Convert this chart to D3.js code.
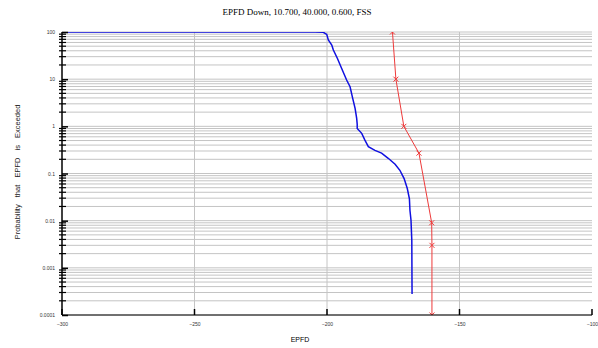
<!DOCTYPE html>
<html>
<head>
<meta charset="utf-8">
<script src="https://cdn.jsdelivr.net/npm/d3@7"></script>
<style>
  body { margin: 0; background: #fff; }
  svg { display: block; }
</style>
</head>
<body>
<div id="chart"></div>
<script>
// blue curve: EPFD value vs probability (%) exceeded
const blueEpfd = [-300, -204.5, -201.4, -200.1, -199.5, -198.2, -197.6, -196.1, -194.5, -192.6, -191.3, -190.3, -189.4, -188.8, -188.6, -188.6, -186.9, -185.7, -184.4, -181.9, -179.4, -176.9, -174.3, -172.5, -170.9, -169.7, -168.9, -168.7, -168.3, -168.0, -167.9];
const blueProb = [100, 100, 98.6, 89, 67.6, 53, 41.5, 27.7, 17, 9.6, 6.9, 3.9, 2.4, 1.47, 1.1, 0.9, 0.71, 0.51, 0.37, 0.31, 0.27, 0.21, 0.157, 0.117, 0.078, 0.048, 0.029, 0.0166, 0.0102, 0.0038, 0.00028];

// red mask series
const redEpfd = [-175.3, -174.0, -171.0, -165.3, -160.5, -160.4, -160.4];
const redProb = [100, 10, 1, 0.27, 0.009, 0.003, 0.0001];

const xTicks = [-300, -250, -200, -150, -100];
const yTicks = [100, 10, 1, 0.1, 0.01, 0.001, 0.0001];
const yTickLabels = ['100', '10', '1', '0.1', '0.01', '0.001', '0.0001'];

const title = 'EPFD Down, 10.700, 40.000, 0.600, FSS';
const xTitle = 'EPFD';
const yTitle = 'Probability that EPFD is Exceeded';

const W = 598, H = 348;
const margin = { top: 32, right: 6, bottom: 33, left: 62 };
const width = W - margin.left - margin.right;
const height = H - margin.top - margin.bottom;

const x = d3.scaleLinear().domain([-300, -100]).range([0, width]);
const y = d3.scaleLog().domain([0.0001, 100]).range([height, 0]);

// minor values 2..9 of each decade
const minor = [];
for (let e = -4; e < 2; e++) {
  for (let m = 2; m <= 9; m++) minor.push(m * Math.pow(10, e));
}

const svg = d3.select('#chart').append('svg')
  .attr('width', W)
  .attr('height', H);

svg.append('text')
  .attr('x', 297)
  .attr('y', 15)
  .attr('text-anchor', 'middle')
  .style('font-family', '"Liberation Serif", "Times New Roman", serif')
  .style('font-size', '9px')
  .text(title);

const g = svg.append('g')
  .attr('transform', 'translate(' + margin.left + ',' + margin.top + ')');

g.append('clipPath').attr('id', 'plotclip')
  .append('rect').attr('x', 0).attr('y', 0).attr('width', width).attr('height', height);

// grid
g.append('g').selectAll('line.hg')
  .data(minor.concat(yTicks))
  .join('line')
  .attr('x1', 0).attr('x2', width)
  .attr('y1', d => y(d)).attr('y2', d => y(d))
  .attr('stroke', '#c4c4c4')
  .attr('stroke-width', 1);

g.append('g').selectAll('line.vg')
  .data(xTicks.slice(1, -1))
  .join('line')
  .attr('x1', d => x(d)).attr('x2', d => x(d))
  .attr('y1', 0).attr('y2', height)
  .attr('stroke', '#c4c4c4')
  .attr('stroke-width', 1);

// series
const line = d3.line().x(d => x(d[0])).y(d => y(d[1]));
const blue = blueEpfd.map((v, i) => [v, blueProb[i]]);
const red = redEpfd.map((v, i) => [v, redProb[i]]);

const plot = g.append('g').attr('clip-path', 'url(#plotclip)');

plot.append('path')
  .datum(blue)
  .attr('d', line)
  .attr('fill', 'none')
  .attr('stroke', '#1010e0')
  .attr('stroke-width', 1.5);

plot.append('path')
  .datum(red)
  .attr('d', line)
  .attr('fill', 'none')
  .attr('stroke', '#ee3a3a')
  .attr('stroke-width', 1);

plot.selectAll('path.mark')
  .data(red)
  .join('path')
  .attr('class', 'mark')
  .attr('transform', d => 'translate(' + x(d[0]) + ',' + y(d[1]) + ')')
  .attr('d', 'M-2.5,-2.5L2.5,2.5M-2.5,2.5L2.5,-2.5')
  .attr('stroke', '#ee3a3a')
  .attr('stroke-width', 1);

// y axis
const yAxis = d3.axisLeft(y)
  .tickValues(yTicks)
  .tickFormat((d, i) => yTickLabels[i])
  .tickSize(5)
  .tickPadding(2);

const ya = g.append('g').call(yAxis);
ya.select('.domain').remove();
ya.selectAll('.tick line').attr('x2', 6).attr('stroke-width', 1.5);
ya.selectAll('.tick text')
  .style('font-family', 'Arial, "Liberation Sans", sans-serif')
  .style('font-size', '5px')
  .attr('fill', '#333');

g.append('g').selectAll('line')
  .data(minor)
  .join('line')
  .attr('x1', -3).attr('x2', 4)
  .attr('y1', d => y(d)).attr('y2', d => y(d))
  .attr('stroke', '#000')
  .attr('stroke-width', 1.2);

g.append('line')
  .attr('x1', 0).attr('x2', 0)
  .attr('y1', 0).attr('y2', height)
  .attr('stroke', '#000')
  .attr('stroke-width', 1.5);

// x axis
const xAxis = d3.axisBottom(x)
  .tickValues(xTicks)
  .tickSize(0)
  .tickPadding(7);

const xa = g.append('g')
  .attr('transform', 'translate(0,' + height + ')')
  .call(xAxis);
xa.select('.domain').remove();
xa.selectAll('.tick text')
  .style('font-family', 'Arial, "Liberation Sans", sans-serif')
  .style('font-size', '5px')
  .attr('fill', '#333');

g.append('g').selectAll('line')
  .data(xTicks)
  .join('line')
  .attr('x1', d => x(d)).attr('x2', d => x(d))
  .attr('y1', height - 6).attr('y2', height)
  .attr('stroke', '#000')
  .attr('stroke-width', 1.5);

g.append('line')
  .attr('x1', 0).attr('x2', width)
  .attr('y1', height).attr('y2', height)
  .attr('stroke', '#000')
  .attr('stroke-width', 1.2);

// axis titles
svg.append('text')
  .attr('x', 300)
  .attr('y', 342)
  .attr('text-anchor', 'middle')
  .style('font-family', 'Arial, "Liberation Sans", sans-serif')
  .style('font-size', '7px')
  .text(xTitle);

svg.append('text')
  .attr('transform', 'translate(20,172) rotate(-90)')
  .attr('text-anchor', 'middle')
  .style('font-family', 'Arial, "Liberation Sans", sans-serif')
  .style('font-size', '7.5px')
  .style('word-spacing', '5px')
  .attr('fill', '#222')
  .text(yTitle);
</script>
</body>
</html>
